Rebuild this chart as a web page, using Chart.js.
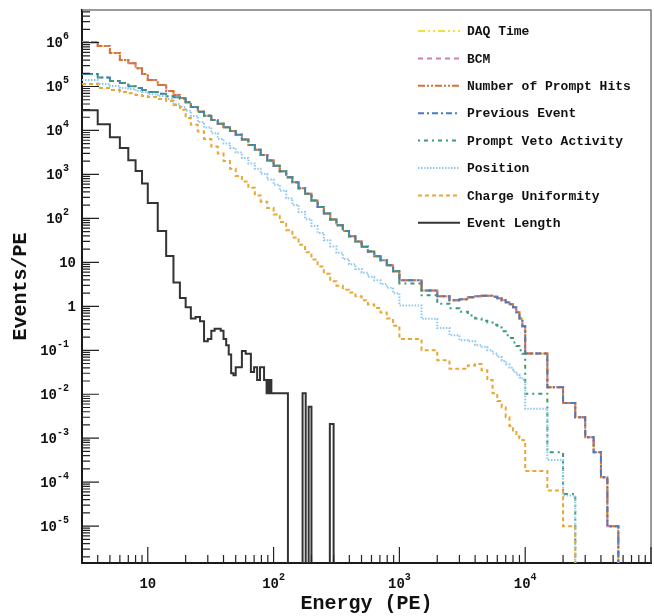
<!DOCTYPE html>
<html>
<head>
<meta charset="utf-8">
<script src="https://cdn.jsdelivr.net/npm/chart.js@4.4.1/dist/chart.umd.min.js"></script>
<style>
  html, body { margin: 0; padding: 0; background: #fff; }
  #wrap { width: 654px; height: 616px; }
</style>
</head>
<body>
<div id="wrap"><canvas id="chart" width="654" height="616"></canvas></div>
<script>
// --- Data ---
// bin low edges for the cut-flow spectra, last entry is the upper edge of the last bin
const energyEdges = [3, 4, 5, 6, 7, 8, 9, 10, 12, 14, 16, 18,
  20, 22, 25, 28, 32, 36, 40, 45, 50, 56, 63, 71, 79, 89,
  100, 112, 126, 141, 158, 178, 200, 224, 251, 282, 316, 355, 398, 447, 501, 562, 631, 708, 794, 891,
  1000, 1500, 2000, 2500, 3000, 3500, 4000, 4500, 5000, 5500, 6000, 6500, 7000, 7500, 8000, 8500, 9000, 9500,
  10000, 15000, 20000, 25000, 30000, 35000, 40000, 45000, 50000, 55000];

// DAQ Time, BCM and Number of Prompt Hits lie on top of each other
const daqTimeValues = [1.03e6, 8.4e5, 5.8e5, 4.0e5, 3.4e5, 2.6e5, 1.93e5, 1.41e5, 1.08e5, 7.9e4, 6.4e4, 5.5e4,
  4.4e4, 3.4e4, 2.67e4, 2.17e4, 1.73e4, 1.42e4, 1.18e4, 9.7e3, 8.0e3, 6.2e3, 4.7e3, 3.65e3, 2.78e3, 2.07e3,
  1570, 1180, 868, 661, 488, 363, 256, 182, 129, 94, 70, 52, 39.5, 29.8, 22.7, 17.6, 13.8, 11.2, 8.6, 6.3,
  3.9, 2.3, 1.7, 1.37, 1.44, 1.6, 1.69, 1.73, 1.73, 1.65, 1.52, 1.37, 1.23, 1.12, 0.95, 0.73, 0.53, 0.35,
  0.084, 0.0145, 0.0063, 0.003, 0.00105, 4.8e-4, 1.3e-4, 1.0e-5, 1.0e-5];
const bcmValues = daqTimeValues.slice();
const promptHitsValues = daqTimeValues.slice();

// Previous Event differs only below ~20 PE, elsewhere it follows the curves above
const previousEventLow = [1.93e5, 1.6e5, 1.34e5, 1.2e5, 1.02e5, 9.2e4, 8.3e4, 7.5e4, 6.8e4, 6.0e4, 5.7e4, 5.3e4];
const previousEventValues = previousEventLow.concat(daqTimeValues.slice(previousEventLow.length));

// Prompt Veto Activity follows Previous Event up to 1000 PE
const promptVetoHigh = [3.3, 1.78, 1.15, 0.9, 0.75, 0.62, 0.53, 0.47, 0.43, 0.38, 0.33, 0.27, 0.22, 0.19, 0.15, 0.125, 0.1, 0.083,
  0.0103, 4.8e-4, 5.4e-5, 0, 0, 0, 0, 0, 0];
const promptVetoValues = previousEventValues.slice(0, previousEventValues.length - promptVetoHigh.length).concat(promptVetoHigh);

const positionValues = [1.41e5, 1.14e5, 1.03e5, 9.2e4, 8.8e4, 7.9e4, 7.5e4, 6.7e4, 6.1e4, 5.2e4, 4.0e4, 3.4e4,
  2.82e4, 2.13e4, 1.55e4, 1.17e4, 8.6e3, 6.4e3, 5.06e3, 3.97e3, 3.14e3, 2.38e3, 1.78e3, 1.35e3, 1.03e3, 765,
  580, 425, 288, 203, 140, 96, 67, 46.8, 32, 23, 16.5, 11.9, 9.0, 7.1, 5.8, 4.7, 3.9, 3.2, 2.64, 1.98,
  1.05, 0.52, 0.32, 0.22, 0.17, 0.16, 0.13, 0.12, 0.1, 0.085, 0.07, 0.058, 0.048, 0.04, 0.033, 0.028, 0.024, 0.021,
  0.0047, 3.2e-4, 5.0e-5, 0, 0, 0, 0, 0, 0];

const chargeUniformityValues = [1.14e5, 9.2e4, 8.3e4, 7.5e4, 7.0e4, 6.4e4, 6.1e4, 5.8e4, 5.2e4, 4.7e4, 3.8e4, 2.95e4,
  1.92e4, 1.35e4, 9.5e3, 6.4e3, 4.3e3, 2.99e3, 2.01e3, 1.35e3, 920, 693, 500, 332, 240, 172,
  123, 83, 54, 37, 25, 17, 11.6, 8.0, 5.5, 3.7, 2.93, 2.39, 2.05, 1.70, 1.38, 1.10, 0.92, 0.72, 0.53, 0.36,
  0.18, 0.1, 0.059, 0.038, 0.038, 0.045, 0.049, 0.035, 0.021, 0.0105, 0.007, 0.005, 0.003, 0.0019, 0.0015, 0.0011, 0.001, 9e-4,
  1.8e-4, 6.5e-5, 1.0e-5, 0, 0, 0, 0, 0, 0];

// Event Length uses its own, finer binning
const lengthEdges = [3, 4, 5, 6, 7, 8, 9, 10, 12, 14, 16, 18, 20, 22, 24, 26, 28, 30, 32, 34, 36, 38, 40, 42, 44, 46, 48, 50,
  56, 60, 66, 70, 74, 78, 84, 88, 90, 92, 94, 96, 100, 130, 170, 180, 190, 200, 280, 300];
const eventLengthValues = [2.9e4, 1.38e4, 7.0e3, 4.0e3, 2.1e3, 1.19e3, 624,
  225, 52, 14, 3.5, 1.55, 0.95, 0.53, 0.57, 0.46, 0.16, 0.18, 0.28, 0.31, 0.31, 0.28, 0.18, 0.13, 0.08, 0.03, 0.027,
  0.041, 0.096, 0.083, 0.032, 0.041, 0.021, 0.041, 0.021, 0.0106, 0.021, 0.0106, 0.021,
  0.0106, 0.0106, 0, 0.0106, 0, 0.0052, 0, 0.0021];

const seriesNames = ['DAQ Time', 'BCM', 'Number of Prompt Hits', 'Previous Event',
  'Prompt Veto Activity', 'Position', 'Charge Uniformity', 'Event Length'];

const xTickValues = [10, 100, 1000, 10000];
const xTickExponents = ['', '2', '3', '4'];
const yTickValues = [1e6, 1e5, 1e4, 1e3, 1e2, 10, 1, 0.1, 0.01, 1e-3, 1e-4, 1e-5];
const yTickExponents = ['6', '5', '4', '3', '2', '', '', '-1', '-2', '-3', '-4', '-5'];
const yTickBases = ['10', '10', '10', '10', '10', '10', '1', '10', '10', '10', '10', '10'];

// --- Styling ---
const LABEL_FONT = '"Liberation Mono", "DejaVu Sans Mono", monospace';
const EMPTY_BIN = 1e-9; // empty bins are drawn below the axis and clipped

const styles = [
  { color: '#efdf45', dash: [7, 3, 2, 3, 2, 3] },
  { color: '#cf7fb0', dash: [5, 4] },
  { color: '#d9703a', dash: [7, 2, 2, 2, 2, 2] },
  { color: '#4a7cc6', dash: [6, 3, 2, 3] },
  { color: '#3b9a70', dash: [2, 4, 4, 4] },
  { color: '#8ec7f0', dash: [1.5, 1.5] },
  { color: '#e7a838', dash: [4, 3] },
  { color: '#333333', dash: [] }
];

function histPoints(edges, values) {
  return edges.map((e, i) => {
    const v = i < values.length ? values[i] : 0;
    return { x: e, y: v > 0 ? v : EMPTY_BIN };
  });
}

const seriesValues = [daqTimeValues, bcmValues, promptHitsValues, previousEventValues,
  promptVetoValues, positionValues, chargeUniformityValues, eventLengthValues];

// later series are painted over earlier ones, as in the original cut-flow plot
const datasets = seriesNames.map((name, i) => ({
  label: name,
  data: histPoints(i === 7 ? lengthEdges : energyEdges, seriesValues[i]),
  borderColor: styles[i].color,
  borderDash: styles[i].dash,
  borderWidth: 2,
  stepped: true,
  fill: false,
  pointRadius: 0,
  tension: 0,
  order: seriesNames.length - i
}));

// --- Frame, inward ticks, labels and legend ---
const framePlugin = {
  id: 'frame',
  afterDraw(chart) {
    const { ctx, chartArea: area, scales: { x, y } } = chart;
    ctx.save();

    // top/right frame
    ctx.strokeStyle = '#7a7a7a';
    ctx.lineWidth = 1.5;
    ctx.beginPath();
    ctx.moveTo(area.left, area.top);
    ctx.lineTo(area.right, area.top);
    ctx.lineTo(area.right, area.bottom);
    ctx.stroke();

    // ticks pointing into the plot
    ctx.strokeStyle = '#222';
    ctx.lineWidth = 1.2;
    ctx.beginPath();
    for (let e = -7; e <= 7; e++) {
      for (let m = 1; m <= 9; m++) {
        const py = y.getPixelForValue(m * Math.pow(10, e));
        if (py < area.top || py > area.bottom) continue;
        const len = m === 1 ? 17 : 8;
        ctx.moveTo(area.left, py);
        ctx.lineTo(area.left + len, py);
      }
      for (let m = 1; m <= 9; m++) {
        const px = x.getPixelForValue(m * Math.pow(10, e));
        if (px < area.left || px > area.right) continue;
        const len = m === 1 ? 16 : 8;
        ctx.moveTo(px, area.bottom);
        ctx.lineTo(px, area.bottom - len);
      }
    }
    ctx.stroke();

    // tick labels with raised exponents
    ctx.fillStyle = '#111';
    ctx.textBaseline = 'middle';
    const baseFont = 'bold 14px ' + LABEL_FONT;
    const expFont = 'bold 10px ' + LABEL_FONT;

    yTickValues.forEach((v, i) => {
      const py = y.getPixelForValue(v);
      const exp = yTickExponents[i];
      ctx.font = expFont;
      const ew = exp ? ctx.measureText(exp).width : 0;
      ctx.textAlign = 'right';
      if (exp) {
        ctx.fillText(exp, 69, py - 6);
      }
      ctx.font = baseFont;
      ctx.fillText(yTickBases[i], exp ? 69 - ew : 76, py + 1);
    });

    xTickValues.forEach((v, i) => {
      const px = x.getPixelForValue(v);
      const exp = xTickExponents[i];
      ctx.font = baseFont;
      const bw = ctx.measureText('10').width;
      ctx.font = expFont;
      const ew = exp ? ctx.measureText(exp).width : 0;
      const start = px - (bw + ew) / 2;
      ctx.textAlign = 'left';
      ctx.font = baseFont;
      ctx.fillText('10', start, 584);
      if (exp) {
        ctx.font = expFont;
        ctx.fillText(exp, start + bw, 577);
      }
    });

    // legend
    ctx.font = 'bold 13px ' + LABEL_FONT;
    ctx.textAlign = 'left';
    chart.data.datasets.forEach((ds, i) => {
      const ly = 31 + i * 27.4;
      ctx.save();
      ctx.strokeStyle = ds.borderColor;
      ctx.lineWidth = 2;
      ctx.setLineDash(ds.borderDash);
      ctx.beginPath();
      ctx.moveTo(418, ly);
      ctx.lineTo(460, ly);
      ctx.stroke();
      ctx.restore();
      ctx.fillStyle = '#111';
      ctx.fillText(ds.label, 467, ly + 1);
    });

    ctx.restore();
  }
};

new Chart(document.getElementById('chart'), {
  type: 'line',
  data: { datasets },
  options: {
    responsive: false,
    animation: false,
    devicePixelRatio: 1,
    layout: { padding: { top: 10, right: 3, left: 0, bottom: 0 } },
    plugins: { legend: { display: false }, tooltip: { enabled: false } },
    scales: {
      x: {
        type: 'logarithmic',
        min: 3,
        max: 100000,
        grid: { display: false },
        border: { display: true, color: '#1a1a1a', width: 2 },
        ticks: { display: false },
        title: {
          display: true,
          text: 'Energy (PE)',
          color: '#111',
          font: { family: LABEL_FONT, size: 20, weight: 'bold' },
          padding: { top: 0, bottom: 0 }
        },
        afterFit: (scale) => { scale.height = 53; }
      },
      y: {
        type: 'logarithmic',
        min: 1.45e-6,
        max: 5.5e6,
        grid: { display: false },
        border: { display: true, color: '#1a1a1a', width: 2 },
        ticks: { display: false },
        title: {
          display: true,
          text: 'Events/PE',
          color: '#111',
          font: { family: LABEL_FONT, size: 20, weight: 'bold' },
          padding: { top: 9, bottom: 0 }
        },
        afterFit: (scale) => { scale.width = 82; }
      }
    }
  },
  plugins: [framePlugin]
});
</script>
</body>
</html>
